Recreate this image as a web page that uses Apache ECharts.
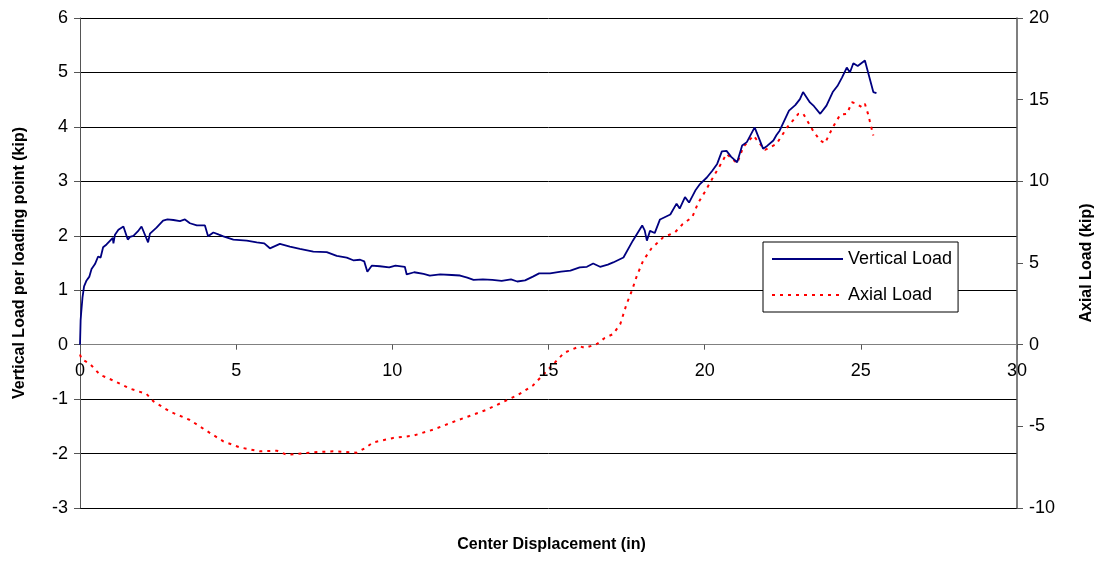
<!DOCTYPE html>
<html>
<head>
<meta charset="utf-8">
<script src="https://cdn.jsdelivr.net/npm/echarts@6/dist/echarts.min.js"></script>
<style>html,body{margin:0;padding:0;background:#fff}#c{width:1103px;height:561px}</style>
</head>
<body>
<div id="c"></div>
<script>
// Center displacement (in) and vertical load per loading point (kip)
const vertX = [0,0.02,0.04,0.08,0.13,0.21,0.3,0.37,0.48,0.58,0.66,0.74,0.85,0.95,1.05,1.07,1.12,1.23,1.39,1.53,1.6,1.71,1.85,1.97,2.18,2.24,2.45,2.66,2.8,2.99,3.2,3.36,3.52,3.74,4.0,4.1,4.27,4.45,4.59,4.91,5.34,5.66,5.9,6.08,6.4,6.72,7.04,7.47,7.9,8.22,8.54,8.75,8.97,9.1,9.2,9.34,9.6,9.9,10.1,10.4,10.46,10.7,11.0,11.2,11.53,11.9,12.17,12.4,12.6,12.9,13.2,13.5,13.8,14.0,14.25,14.5,14.7,15.05,15.4,15.7,16.0,16.23,16.43,16.65,16.9,17.07,17.4,17.7,18.0,18.08,18.15,18.25,18.4,18.57,18.9,19.1,19.2,19.37,19.5,19.7,19.85,20.07,20.25,20.4,20.55,20.7,20.85,21.04,21.2,21.35,21.6,21.87,22.0,22.2,22.3,22.4,22.7,22.9,23.05,23.15,23.37,23.5,23.7,23.9,24.1,24.25,24.4,24.55,24.65,24.76,24.9,25.13,25.4,25.5];
const vertY = [0,0.45,0.6,0.87,1.07,1.18,1.25,1.39,1.48,1.62,1.6,1.79,1.84,1.9,1.96,1.86,2.02,2.11,2.17,1.93,1.98,2.0,2.08,2.17,1.88,2.04,2.15,2.28,2.3,2.29,2.27,2.3,2.23,2.19,2.19,1.99,2.06,2.02,1.99,1.93,1.91,1.88,1.86,1.77,1.85,1.8,1.76,1.71,1.7,1.63,1.6,1.55,1.56,1.53,1.34,1.45,1.44,1.42,1.45,1.43,1.29,1.33,1.3,1.27,1.29,1.28,1.27,1.23,1.19,1.2,1.19,1.17,1.2,1.16,1.18,1.25,1.31,1.31,1.34,1.36,1.42,1.43,1.49,1.43,1.47,1.51,1.6,1.91,2.19,2.1,1.91,2.09,2.05,2.3,2.39,2.59,2.5,2.71,2.61,2.83,2.95,3.07,3.2,3.32,3.55,3.56,3.45,3.35,3.66,3.72,3.99,3.6,3.65,3.75,3.85,3.93,4.3,4.4,4.51,4.64,4.45,4.38,4.24,4.39,4.64,4.75,4.91,5.09,5.0,5.17,5.12,5.22,4.64,4.62];
// Center displacement (in) and axial load (kip)
const axialX = [0,0.05,0.32,0.64,1.07,1.6,2.13,2.35,2.88,3.52,4.05,4.59,5.12,5.76,6.3,6.62,7.47,8.11,8.86,9.13,9.39,10.03,10.67,11.31,12.06,13.0,14.0,14.5,15.0,15.5,16.0,16.17,16.55,16.8,17.07,17.3,17.5,17.67,17.83,18.03,18.3,18.67,19.05,19.3,19.6,19.8,20.0,20.27,20.55,20.7,21.04,21.24,21.56,21.93,22.3,22.64,23.0,23.15,23.47,23.7,23.85,24.1,24.34,24.55,24.72,24.87,25.04,25.13,25.23,25.4];
const axialY = [-0.6,-0.88,-1.18,-1.84,-2.2,-2.69,-3.02,-3.47,-4.1,-4.61,-5.27,-5.92,-6.29,-6.53,-6.49,-6.74,-6.59,-6.53,-6.61,-6.33,-5.98,-5.71,-5.57,-5.2,-4.65,-4.0,-3.1,-2.5,-1.5,-0.5,-0.1,-0.2,0.04,0.41,0.65,1.27,2.49,3.31,4.22,5.14,5.9,6.57,6.88,7.39,7.8,8.71,9.33,10.25,11.16,11.68,11.1,12.12,12.8,11.92,12.29,13.3,14.13,14.16,13.1,12.49,12.33,13.3,14.08,14.13,14.84,14.74,14.53,14.74,14.13,12.8];

const xTicks = [0,5,10,15,20,25,30];
const leftTicks = [-3,-2,-1,0,1,2,3,4,5,6];
const rightTicks = [-10,-5,0,5,10,15,20];

const pair = (xs, ys) => xs.map((x,i)=>[x, ys[i]]);
const font = 'Liberation Sans, Arial, sans-serif';

const chart = echarts.init(document.getElementById('c'), null, {renderer:'canvas'});
chart.setOption({
  backgroundColor:'#fff',
  animation:false,
  grid:{left:80,right:86,top:18,bottom:53,containLabel:false},
  legend:{
    left:763, top:242, orient:'vertical',
    data:['Vertical Load','Axial Load'],
    itemWidth:71, itemHeight:14, itemGap:18,
    padding:[8,6,8,8],
    borderColor:'#000', borderWidth:1, backgroundColor:'#fff',
    itemStyle:{opacity:0},
    textStyle:{fontFamily:font,fontSize:18,color:'#000',padding:[0,0,0,0]}
  },
  xAxis:{
    type:'value', min:xTicks[0], max:xTicks[xTicks.length-1], interval:5,
    axisLine:{onZero:true,lineStyle:{color:'#808080',width:1}},
    axisTick:{show:true,length:5,inside:false,lineStyle:{color:'#555'}},
    axisLabel:{show:false},
    splitLine:{show:false}
  },
  yAxis:[{
    type:'value', min:leftTicks[0], max:leftTicks[leftTicks.length-1], interval:1,
    position:'left',
    name:'Vertical Load per loading point (kip)', nameLocation:'middle', nameGap:52, nameRotate:90,
    nameTextStyle:{fontFamily:font,fontSize:16,fontWeight:'bold',color:'#000'},
    axisLine:{show:true,onZero:false,lineStyle:{color:'#555',width:1}},
    axisTick:{show:true,length:6,lineStyle:{color:'#555'}},
    axisLabel:{fontFamily:font,fontSize:18,color:'#000',margin:12},
    splitLine:{show:true,lineStyle:{color:'#000',width:1}}
  },{
    type:'value', min:rightTicks[0], max:rightTicks[rightTicks.length-1], interval:5,
    position:'right',
    name:'Axial Load (kip)', nameLocation:'middle', nameGap:62, nameRotate:90,
    nameTextStyle:{fontFamily:font,fontSize:16,fontWeight:'bold',color:'#000'},
    axisLine:{show:true,onZero:false,lineStyle:{color:'#555',width:1.5}},
    axisTick:{show:true,length:6,lineStyle:{color:'#555'}},
    axisLabel:{fontFamily:font,fontSize:18,color:'#000',margin:12},
    splitLine:{show:false}
  }],
  graphic:[{
    type:'text', left:'center', top:537,
    style:{text:'Center Displacement (in)',font:'bold 16px '+font,fill:'#000'}
  }],
  series:[{
    name:'Vertical Load', type:'line', yAxisIndex:0, showSymbol:false, symbol:'none',
    data:pair(vertX,vertY),
    lineStyle:{color:'#000080',width:1.8}, itemStyle:{color:'#000080'}, z:3
  },{
    name:'Axial Load', type:'line', yAxisIndex:1, showSymbol:false, symbol:'none',
    data:pair(axialX,axialY),
    lineStyle:{color:'#ff0000',width:2,type:[3,5]}, itemStyle:{color:'#ff0000'}, z:2
  },{
    name:'xTickLabels', type:'scatter', yAxisIndex:0, silent:true,
    symbol:'rect', symbolSize:2, itemStyle:{color:'rgba(0,0,0,0)',opacity:1},
    data:xTicks.map(t=>[t,0]),
    labelLayout:{hideOverlap:false},
    label:{show:true,position:'bottom',distance:16,fontFamily:font,fontSize:18,color:'#000',opacity:1,
      formatter:p=>String(p.value[0])},
    z:5
  }]
});
</script>
</body>
</html>
